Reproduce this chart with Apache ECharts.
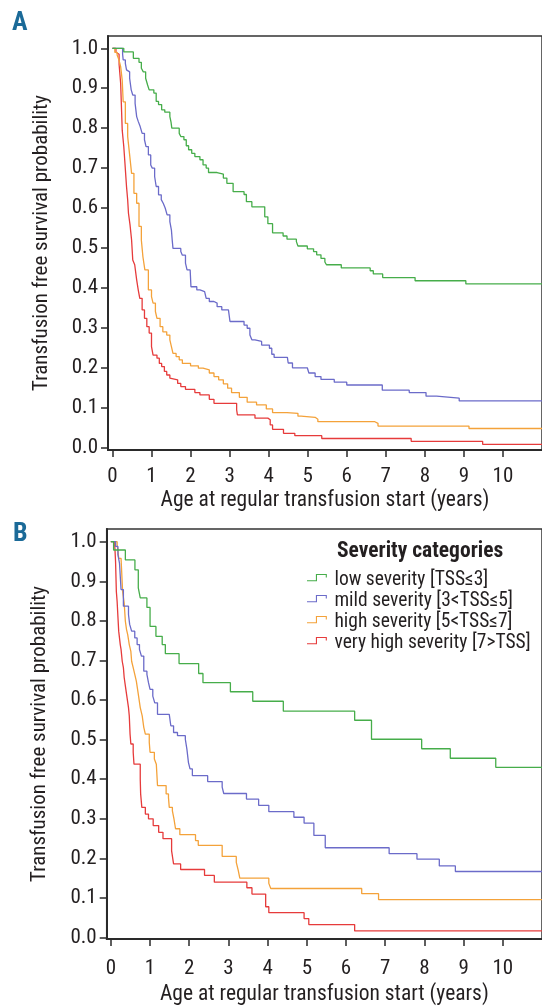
<!DOCTYPE html>
<html><head><meta charset="utf-8">
<script src="https://cdn.jsdelivr.net/npm/echarts@6/dist/echarts.min.js"></script>
<style>html,body{margin:0;padding:0;background:#fff}#c{width:542px;height:1007px}</style>
</head><body><div id="c"></div>
<script>
// ---- data ----
const seriesNames = ['low severity [TSS\u22643]', 'mild severity [3<TSS\u22645]', 'high severity [5<TSS\u22647]', 'very high severity [7>TSS]'];
const seriesColors = ['#46ad4a', '#6b6bc9', '#f4a23a', '#e63b3b'];
const xTicks = [0,1,2,3,4,5,6,7,8,9,10];
const yTicks = [0,0.1,0.2,0.3,0.4,0.5,0.6,0.7,0.8,0.9,1.0];
const xTitle = 'Age at regular transfusion start (years)';
const yTitle = 'Transfusion free survival probability';
const legendTitle = 'Severity categories';
const panelLabels = ['A', 'B'];

// Panel A  [time, survival]
const aLow = [[0,1],[0.29,0.991],[0.535,0.975],[0.68,0.965],[0.74,0.95],[0.79,0.941],[0.85,0.925],[0.90,0.908],[0.94,0.896],[1.06,0.888],[1.12,0.867],[1.18,0.859],[1.26,0.846],[1.34,0.84],[1.47,0.829],[1.50,0.815],[1.52,0.80],[1.71,0.787],[1.75,0.779],[1.83,0.771],[1.89,0.756],[1.95,0.746],[2.03,0.737],[2.11,0.729],[2.24,0.721],[2.32,0.708],[2.40,0.70],[2.46,0.689],[2.68,0.685],[2.84,0.675],[2.93,0.662],[3.09,0.641],[3.37,0.634],[3.43,0.616],[3.57,0.603],[3.90,0.578],[3.98,0.561],[4.10,0.538],[4.37,0.53],[4.47,0.522],[4.71,0.516],[4.75,0.505],[4.99,0.498],[5.15,0.491],[5.23,0.483],[5.34,0.474],[5.44,0.465],[5.48,0.458],[5.86,0.450],[6.60,0.443],[6.68,0.435],[6.92,0.426],[7.75,0.418],[9.05,0.410],[11,0.410]];
const aMild = [[0,1],[0.26,0.985],[0.275,0.971],[0.33,0.962],[0.36,0.946],[0.41,0.941],[0.44,0.925],[0.48,0.896],[0.52,0.883],[0.58,0.862],[0.62,0.829],[0.66,0.817],[0.71,0.804],[0.76,0.787],[0.82,0.771],[0.86,0.754],[0.92,0.733],[0.98,0.708],[1.02,0.70],[1.08,0.679],[1.12,0.654],[1.18,0.633],[1.25,0.621],[1.30,0.612],[1.35,0.60],[1.40,0.583],[1.47,0.566],[1.51,0.545],[1.53,0.52],[1.55,0.499],[1.75,0.491],[1.79,0.482],[1.87,0.462],[1.91,0.445],[1.99,0.441],[2.01,0.403],[2.16,0.395],[2.24,0.391],[2.36,0.386],[2.40,0.374],[2.48,0.366],[2.60,0.362],[2.68,0.353],[2.80,0.345],[2.97,0.341],[3.01,0.316],[3.37,0.307],[3.45,0.299],[3.52,0.282],[3.57,0.270],[3.65,0.266],[3.82,0.257],[4.02,0.249],[4.08,0.234],[4.14,0.226],[4.48,0.222],[4.50,0.212],[4.61,0.200],[4.99,0.195],[5.03,0.187],[5.19,0.178],[5.34,0.171],[5.68,0.164],[6.00,0.157],[6.91,0.144],[7.60,0.138],[8.03,0.129],[8.30,0.124],[8.88,0.117],[11,0.117]];
const aHigh = [[0,1],[0.06,0.99],[0.12,0.983],[0.17,0.97],[0.21,0.954],[0.25,0.92],[0.275,0.866],[0.33,0.812],[0.39,0.779],[0.44,0.733],[0.49,0.687],[0.55,0.637],[0.62,0.612],[0.68,0.554],[0.74,0.52],[0.78,0.478],[0.83,0.445],[0.92,0.395],[1.0,0.378],[1.04,0.362],[1.10,0.341],[1.14,0.324],[1.22,0.303],[1.29,0.29],[1.39,0.282],[1.47,0.27],[1.51,0.253],[1.55,0.236],[1.63,0.228],[1.71,0.22],[1.79,0.211],[2.0,0.205],[2.2,0.199],[2.32,0.195],[2.48,0.187],[2.6,0.178],[2.72,0.17],[2.84,0.16],[2.95,0.149],[3.05,0.138],[3.25,0.126],[3.45,0.114],[3.69,0.107],[3.94,0.097],[4.10,0.088],[4.47,0.086],[4.75,0.079],[4.83,0.076],[5.19,0.071],[5.26,0.065],[6.72,0.061],[6.80,0.054],[9.13,0.048],[11,0.048]];
const aVeryHigh = [[0,1],[0.09,0.99],[0.13,0.985],[0.17,0.96],[0.21,0.912],[0.23,0.854],[0.25,0.795],[0.29,0.754],[0.32,0.712],[0.36,0.654],[0.39,0.62],[0.41,0.587],[0.45,0.558],[0.49,0.52],[0.52,0.47],[0.57,0.458],[0.62,0.42],[0.66,0.395],[0.70,0.374],[0.76,0.345],[0.82,0.324],[0.88,0.303],[0.94,0.287],[1.0,0.253],[1.04,0.232],[1.14,0.224],[1.2,0.211],[1.26,0.203],[1.33,0.191],[1.39,0.182],[1.47,0.174],[1.51,0.170],[1.67,0.161],[1.75,0.153],[1.87,0.146],[2.11,0.138],[2.24,0.132],[2.48,0.121],[2.6,0.111],[3.18,0.095],[3.2,0.082],[3.65,0.074],[3.98,0.07],[4.04,0.057],[4.1,0.046],[4.38,0.036],[4.67,0.030],[5.36,0.023],[7.65,0.016],[9.48,0.0085],[11,0.0085]];

// Panel B  [time, survival]
const bLow = [[0,1],[0.07,0.979],[0.37,0.954],[0.614,0.929],[0.70,0.883],[0.75,0.858],[0.92,0.834],[1.0,0.786],[1.15,0.761],[1.31,0.74],[1.39,0.717],[1.74,0.692],[2.24,0.667],[2.35,0.644],[3.05,0.621],[3.62,0.597],[4.4,0.572],[6.22,0.549],[6.65,0.501],[7.93,0.477],[8.66,0.453],[9.82,0.43],[11,0.43]];
const bMild = [[0,1],[0.12,0.988],[0.18,0.967],[0.22,0.946],[0.26,0.879],[0.32,0.837],[0.45,0.816],[0.48,0.791],[0.53,0.774],[0.61,0.757],[0.67,0.74],[0.73,0.728],[0.78,0.711],[0.84,0.673],[0.92,0.665],[0.96,0.644],[1.0,0.627],[1.07,0.61],[1.12,0.593],[1.19,0.564],[1.49,0.56],[1.53,0.535],[1.6,0.518],[1.7,0.51],[1.9,0.501],[1.94,0.476],[1.98,0.442],[2.02,0.426],[2.08,0.409],[2.47,0.394],[2.84,0.380],[2.88,0.364],[3.46,0.35],[3.77,0.334],[4.03,0.318],[4.67,0.304],[4.93,0.289],[5.18,0.258],[5.47,0.227],[7.1,0.212],[7.81,0.198],[8.38,0.181],[8.79,0.167],[11,0.167]];
const bHigh = [[0,1],[0.16,0.992],[0.18,0.979],[0.2,0.958],[0.26,0.954],[0.30,0.874],[0.34,0.845],[0.37,0.799],[0.40,0.778],[0.43,0.765],[0.47,0.74],[0.51,0.723],[0.53,0.698],[0.57,0.682],[0.61,0.665],[0.65,0.648],[0.70,0.615],[0.75,0.581],[0.80,0.56],[0.84,0.531],[0.88,0.514],[0.98,0.493],[1.0,0.468],[1.11,0.451],[1.16,0.438],[1.19,0.384],[1.41,0.363],[1.47,0.354],[1.49,0.329],[1.57,0.32],[1.61,0.30],[1.65,0.275],[1.76,0.26],[2.16,0.245],[2.23,0.233],[2.84,0.205],[3.2,0.19],[3.25,0.17],[3.29,0.150],[4.03,0.137],[4.08,0.124],[6.4,0.111],[6.83,0.096],[11,0.096]];
const bVeryHigh = [[0,1],[0.10,0.99],[0.12,0.95],[0.14,0.874],[0.16,0.849],[0.18,0.811],[0.2,0.774],[0.24,0.74],[0.26,0.728],[0.29,0.698],[0.32,0.682],[0.34,0.657],[0.37,0.636],[0.40,0.615],[0.45,0.581],[0.47,0.56],[0.49,0.514],[0.51,0.489],[0.57,0.468],[0.59,0.438],[0.75,0.40],[0.76,0.363],[0.79,0.329],[0.88,0.312],[0.96,0.30],[1.08,0.283],[1.22,0.266],[1.33,0.25],[1.55,0.219],[1.6,0.186],[1.78,0.172],[2.39,0.157],[2.64,0.140],[3.47,0.126],[3.6,0.11],[3.95,0.078],[4.03,0.063],[4.93,0.048],[5.05,0.033],[6.22,0.017],[11,0.017]];

const panelA = [aLow, aMild, aHigh, aVeryHigh];
const panelB = [bLow, bMild, bHigh, bVeryHigh];

// ---- chart ----
const FONT = '"Roboto Condensed","Liberation Sans Narrow","DejaVu Sans Condensed",sans-serif';
const TXT = '#231f20';
const AX = '#2a2a2a';

function xAxis(gi) {
  return {
    type: 'value', gridIndex: gi, min: gi === 0 ? -0.114 : -0.106, max: 11,
    name: xTitle, nameLocation: 'middle', nameGap: gi === 0 ? 40 : 45,
    nameTextStyle: { fontFamily: FONT, fontSize: 21.5, color: TXT },
    axisLine: { show: true, onZero: false, lineStyle: { color: AX, width: 2 } },
    axisTick: { show: true, length: 7, customValues: xTicks, lineStyle: { color: AX, width: 1.5 } },
    axisLabel: { customValues: xTicks, margin: gi === 0 ? 16 : 19, fontFamily: FONT, fontSize: 21, color: TXT },
    splitLine: { show: false }
  };
}
function yAxis(gi) {
  return {
    type: 'value', gridIndex: gi,
    min: gi === 0 ? -0.0058 : -0.0035, max: gi === 0 ? 1.0308 : 1.032,
    name: yTitle, nameLocation: 'middle', nameGap: 56,
    nameTextStyle: { fontFamily: FONT, fontSize: 21, color: TXT },
    axisLine: { show: true, onZero: false, lineStyle: { color: AX, width: 2 } },
    axisTick: { show: true, length: 7, customValues: yTicks, lineStyle: { color: AX, width: 1.5 } },
    axisLabel: { customValues: yTicks, margin: 10, fontFamily: FONT, fontSize: 21, color: TXT,
      formatter: v => v.toFixed(1) },
    splitLine: { show: false }
  };
}

const series = [];
[panelA, panelB].forEach((panel, gi) => {
  panel.forEach((d, i) => {
    series.push({
      type: 'line', name: seriesNames[i], xAxisIndex: gi, yAxisIndex: gi,
      data: d, step: 'end', showSymbol: false, symbol: 'none', silent: true,
      color: seriesColors[i],
      lineStyle: { color: seriesColors[i], width: 1.3 },
      z: 10 - i
    });
  });
});

// step-shaped legend glyph (with an invisible point below to push the glyph up)
const stepIcon = 'path://M0,10 L13,10 L13,1 L29,1 L29,6 L27.4,6 L27.4,2.6 L14.6,2.6 L14.6,11.6 L0,11.6 Z M0,20 L0.01,20 L0,20 Z';

const chart = echarts.init(document.getElementById('c'), null, { renderer: 'canvas' });
chart.setOption({
  backgroundColor: '#fff',
  animation: false,
  grid: [
    { left: 108, top: 36, right: -23.5, bottom: 557, show: true, borderColor: '#333', borderWidth: 1.5, containLabel: false },
    { left: 106.7, top: 529, right: -16.7, bottom: 66.3, show: true, borderColor: '#333', borderWidth: 1.5, containLabel: false }
  ],
  xAxis: [xAxis(0), xAxis(1)],
  yAxis: [yAxis(0), yAxis(1)],
  legend: {
    data: seriesNames, orient: 'vertical', left: 307, top: 570,
    itemWidth: 25, itemHeight: 13, itemGap: 0, padding: 0,
    icon: stepIcon, selectedMode: false,
    itemStyle: { borderWidth: 0 },
    textStyle: { fontFamily: FONT, fontSize: 19.5, lineHeight: 21, color: TXT }
  },
  graphic: [
    { type: 'text', left: 12, top: 10, style: { text: panelLabels[0], font: 'bold 26px ' + FONT, fill: '#1b6a98' } },
    { type: 'text', left: 13, top: 521, style: { text: panelLabels[1], font: 'bold 26px ' + FONT, fill: '#1b6a98' } },
    { type: 'text', left: 337, top: 541, style: { text: legendTitle, font: 'bold 21.5px ' + FONT, fill: TXT } }
  ],
  series: series
});
</script>
</body></html>
